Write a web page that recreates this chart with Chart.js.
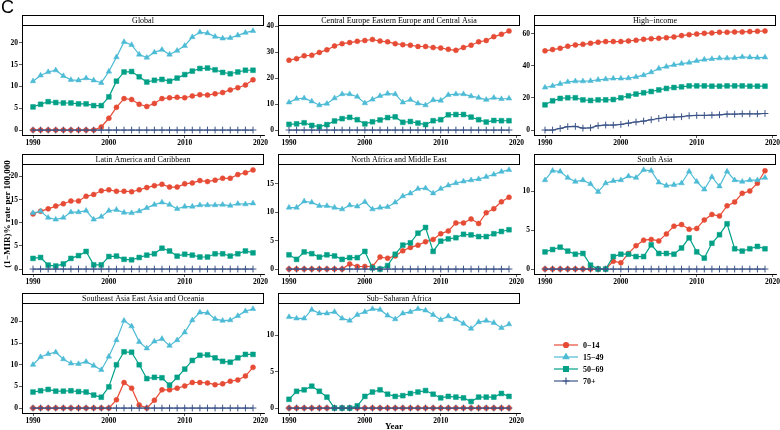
<!DOCTYPE html>
<html>
<head>
<meta charset="utf-8">
<script src="https://cdn.jsdelivr.net/npm/chart.js@4.4.1/dist/chart.umd.min.js"></script>
<style>
  body { margin: 0; background: #fff; }
  #wrap { position: relative; width: 780px; height: 430px; overflow: hidden; font-family: 'Liberation Serif', serif; }
  canvas { position: absolute; }
  .lab { position: absolute; white-space: nowrap; color: #000; }
</style>
</head>
<body>
<div id="wrap"></div>
<script>
// years on the x axis
var years = [1990,1991,1992,1993,1994,1995,1996,1997,1998,1999,2000,2001,2002,2003,2004,
             2005,2006,2007,2008,2009,2010,2011,2012,2013,2014,2015,2016,2017,2018,2019];
var xTicks = [1990, 2000, 2010, 2020];

var ageGroups = ['0\u221214', '15\u221249', '50\u221269', '70+'];
var zeros = [0,0,0,0,0,0,0,0,0,0,0,0,0,0,0,0,0,0,0,0,0,0,0,0,0,0,0,0,0,0];

// Global
var glob014 = [0,0,0,0,0,0,0,0,0,0.7,2.7,5.2,7.2,7.0,5.9,5.4,6.1,7.2,7.4,7.5,7.4,7.8,8.1,8.0,8.3,8.6,9.2,9.7,10.3,11.5];
var glob1549 = [11.2,12.5,13.3,13.7,12.4,11.5,11.4,11.9,11.4,10.8,13.4,16.7,20.2,19.5,17.3,16.6,17.8,18.4,17.3,18.2,19.3,21.3,22.4,22.2,21.4,21.0,21.1,21.7,22.3,22.7];
var glob5069 = [5.3,5.9,6.5,6.3,6.2,6.2,6.0,6.0,5.6,5.6,7.6,11.2,13.3,13.4,12.2,11.0,11.4,11.6,11.2,11.9,12.7,13.5,14.1,14.2,13.8,13.2,12.9,13.3,13.7,13.7];
var globTicks = [0, 5, 10, 15, 20];

// Central Europe Eastern Europe and Central Asia
var ceur014 = [27.0,27.6,28.7,28.9,30.0,31.0,32.5,33.4,33.8,34.3,34.6,35.0,34.4,34.1,33.4,33.0,32.8,32.3,32.3,31.9,31.7,31.2,30.8,31.9,32.8,34.1,34.6,36.1,37.0,38.3];
var ceur1549 = [10.7,12.1,12.3,11.1,9.6,10.2,12.3,13.9,13.9,12.9,10.4,11.8,13.2,14.1,13.9,10.7,11.7,10.3,9.6,11.6,11.4,13.6,13.9,13.9,13.1,12.5,11.7,12.5,12.0,12.2];
var ceur5069 = [2.2,2.4,2.8,1.8,1.3,2.1,3.5,4.4,4.9,4.0,2.4,3.2,3.9,4.8,5.1,3.0,3.3,2.7,2.1,3.6,4.0,5.9,6.0,6.0,5.0,4.0,3.1,3.7,3.6,3.6];
var ceurTicks = [0, 10, 20, 30, 40];

// High-income
var high014 = [49.3,50.1,50.9,52.2,53.0,53.4,54.0,54.7,55.1,55.1,55.1,55.5,55.9,56.5,56.9,57.1,57.5,58.0,58.8,59.4,59.8,60.2,60.5,60.9,60.9,61.1,61.1,61.3,61.5,61.7];
var high1549 = [26.5,27.5,28.8,30.0,30.4,30.4,30.6,31.3,31.7,32.1,32.1,32.3,33.1,34.2,36.0,38.3,39.5,40.6,41.4,42.0,43.1,43.9,44.3,44.7,44.7,44.9,45.5,45.3,45.1,45.3];
var high5069 = [15.7,18.2,19.7,20.1,20.1,18.8,18.4,18.8,18.8,19.0,20.1,21.3,22.4,23.2,24.0,25.0,25.9,26.5,26.9,27.5,27.5,27.5,27.3,27.3,27.5,27.5,27.5,27.3,27.3,27.3];
var high70 = [0,0,1.0,2.1,2.3,1.2,1.4,2.7,3.1,3.1,3.5,4.3,5.0,5.6,6.4,7.2,7.9,8.1,8.3,8.9,9.1,9.1,9.3,9.5,9.9,9.9,10.1,10.1,10.1,10.3];
var highTicks = [0, 20, 40, 60];

// Latin America and Caribbean
var lat014 = [11.9,12.5,13.0,13.6,14.1,14.7,14.7,15.7,16.1,16.9,17.1,16.8,16.8,16.7,17.1,17.6,18.0,18.3,17.7,17.7,18.4,18.6,19.1,18.9,19.2,19.6,19.6,20.4,20.8,21.4];
var lat1549 = [12.1,12.5,11.1,10.7,11.1,12.3,12.3,12.6,10.7,11.3,12.6,12.8,12.2,12.1,12.5,13.2,13.9,14.4,13.9,13.0,13.5,13.5,13.8,13.8,13.8,13.9,13.7,14.1,14.0,14.2];
var lat5069 = [2.3,2.5,0.85,0.65,1.1,2.3,2.9,3.8,0.9,0.9,2.7,2.8,2.1,2.0,2.5,3.0,3.3,4.5,3.9,2.8,3.2,3.0,2.6,2.6,3.3,3.3,2.8,3.3,3.9,3.5];
var latTicks = [0, 5, 10, 15, 20];

// North Africa and Middle East
var nafr014 = [0,0,0,0,0,0,0,0,0.9,0.45,0.45,0.45,2.1,1.9,2.3,3.2,3.8,4.2,4.8,5.2,6.2,6.7,8.1,8.1,8.8,8.0,9.9,10.6,11.8,12.6];
var nafr1549 = [10.8,10.8,11.9,11.7,11.1,11.1,10.8,10.5,11.2,11.0,11.8,10.5,10.8,10.9,11.7,12.8,13.3,14.1,14.2,13.3,14.1,14.7,15.1,15.4,15.6,15.8,16.2,16.6,17.1,17.4];
var nafr5069 = [2.5,1.7,3.0,2.7,2.1,2.5,2.3,1.7,2.0,2.0,3.1,0.2,0,0.6,2.6,4.2,4.6,6.3,7.3,3.1,4.9,5.3,5.5,6.1,6.0,5.7,5.7,6.2,6.6,6.9];
var nafrTicks = [0, 5, 10, 15];

// South Asia
var sas014 = [0,0,0,0,0,0,0,0,0,1.0,0.8,2.0,3.0,3.7,3.8,3.6,4.5,5.5,5.7,5.1,5.2,6.3,7.0,6.8,8.1,8.6,9.7,10.0,11.0,12.6];
var sas1549 = [11.4,12.6,12.5,11.7,11.2,11.4,10.9,9.9,11.0,11.3,11.4,11.9,11.7,12.7,12.6,11.1,10.7,10.8,11.0,12.5,11.2,10.2,11.8,10.6,12.5,11.4,11.2,11.4,11.4,11.7];
var sas5069 = [2.2,2.5,2.8,2.3,1.9,2.0,0.5,0,0,1.6,1.9,1.9,1.6,1.6,3.1,2.0,2.0,1.9,2.7,4.0,2.2,1.4,3.3,4.4,5.8,2.6,2.3,2.6,2.9,2.6];
var sasTicks = [0, 5, 10];

// Southeast Asia East Asia and Oceania
var sea014 = [0,0,0,0,0,0,0,0,0,0,0,1.9,5.9,4.6,0.7,0,1.8,4.2,4.2,4.6,5.1,5.9,5.9,5.8,5.4,5.6,6.2,6.5,7.4,9.4];
var sea1549 = [10.0,11.8,12.5,12.9,11.3,10.3,10.2,10.7,9.8,8.8,11.9,15.7,20.2,18.9,15.3,13.8,15.4,16.0,14.4,15.7,17.5,20.3,22.1,22.0,20.6,20.2,20.3,21.3,22.4,22.9];
var sea5069 = [3.7,4.0,4.3,3.9,3.9,4.0,3.8,3.7,3.0,2.5,4.9,10.0,13.0,12.9,10.0,6.8,7.1,7.0,5.3,7.1,9.0,11.0,12.2,12.3,11.6,10.8,10.6,11.6,12.4,12.4];
var seaTicks = [0, 5, 10, 15, 20];

// Sub-Saharan Africa
var ssa1549 = [12.5,12.3,12.3,13.5,13.0,13.0,13.2,12.3,12.0,12.8,13.2,13.6,13.5,12.7,12.2,13.0,13.2,13.6,13.4,12.8,12.1,12.6,12.2,11.6,10.9,11.8,12.0,11.7,11.0,11.5];
var ssa5069 = [1.2,2.3,2.5,3.0,2.3,1.5,0,0,0,0.3,1.6,2.2,2.5,1.9,1.6,1.7,2.0,2.2,2.4,1.9,1.4,1.6,1.5,1.4,0.9,1.5,1.5,1.5,2.0,1.6];
var ssaTicks = [0, 5, 10];

var panels = [
  { title: 'Global', row: 0, col: 0, series: [glob014, glob1549, glob5069, zeros], ticks: globTicks },
  { title: 'Central Europe Eastern Europe and Central Asia', row: 0, col: 1, series: [ceur014, ceur1549, ceur5069, zeros], ticks: ceurTicks },
  { title: 'High\u2212income', row: 0, col: 2, series: [high014, high1549, high5069, high70], ticks: highTicks },
  { title: 'Latin America and Caribbean', row: 1, col: 0, series: [lat014, lat1549, lat5069, zeros], ticks: latTicks },
  { title: 'North Africa and Middle East', row: 1, col: 1, series: [nafr014, nafr1549, nafr5069, zeros], ticks: nafrTicks },
  { title: 'South Asia', row: 1, col: 2, series: [sas014, sas1549, sas5069, zeros], ticks: sasTicks },
  { title: 'Southeast Asia East Asia and Oceania', row: 2, col: 0, series: [sea014, sea1549, sea5069, zeros], ticks: seaTicks },
  { title: 'Sub\u2212Saharan Africa', row: 2, col: 1, series: [zeros, ssa1549, ssa5069, zeros], ticks: ssaTicks }
];

// styles
var colors = ['#E64B35', '#4DBBD5', '#00A087', '#3C5488'];
var shapes = ['circle', 'triangle', 'rect', 'cross'];
var radii = [2.5, 3.2, 3.4, 3.4];

var colLeft = [22, 278, 534];
var stripTop = [15, 154, 293];
var plotW = 242, stripH = 11, plotH = 109;
var yAxisW = 22, xAxisH = 14, padTop = stripH + 1, padRight = 12;

Chart.defaults.font.family = "'Liberation Serif', serif";
Chart.defaults.color = '#000';

// grey-headed strip above each panel
var stripPlugin = {
  id: 'strip',
  afterDraw: function(chart, args, opts) {
    var a = chart.chartArea, c = chart.ctx;
    var y0 = a.top - stripH;
    c.save();
    c.fillStyle = '#fff';
    c.fillRect(a.left, y0, a.right - a.left, stripH);
    c.strokeStyle = '#000';
    c.lineWidth = 1;
    c.strokeRect(a.left + 0.5, y0 + 0.5, a.right - a.left - 1, stripH - 1);
    c.fillStyle = '#000';
    c.font = '8px "Liberation Serif", serif';
    c.textAlign = 'center';
    c.textBaseline = 'middle';
    c.fillText(opts.title, (a.left + a.right) / 2, y0 + stripH / 2 + 0.5);
    c.restore();
  }
};

var wrap = document.getElementById('wrap');

function addLabel(text, css) {
  var d = document.createElement('div');
  d.className = 'lab';
  d.textContent = text;
  d.style.cssText += css;
  wrap.appendChild(d);
  return d;
}

panels.forEach(function(p) {
  var left = colLeft[p.col];
  var top = stripTop[p.row] + stripH;

  // y range like ggplot (5% expansion)
  var all = [].concat.apply([], p.series);
  var lo = Math.min.apply(null, all), hi = Math.max.apply(null, all);
  var r = hi - lo;

  var cv = document.createElement('canvas');
  cv.width = yAxisW + plotW + padRight;
  cv.height = padTop + plotH + xAxisH;
  cv.style.left = (left - yAxisW) + 'px';
  cv.style.top = (top - padTop) + 'px';
  wrap.appendChild(cv);

  var datasets = p.series.map(function(vals, i) {
    return {
      label: ageGroups[i],
      data: vals.map(function(v, j) { return { x: years[j], y: v }; }),
      borderColor: colors[i],
      backgroundColor: colors[i],
      borderWidth: 1.2,
      pointStyle: shapes[i],
      pointRadius: radii[i],
      pointBorderWidth: i === 3 ? 1 : 0.5,
      pointBackgroundColor: colors[i],
      pointBorderColor: colors[i],
      order: 3 - i,
      tension: 0
    };
  });

  new Chart(cv, {
    type: 'line',
    data: { datasets: datasets },
    plugins: [stripPlugin],
    options: {
      responsive: false,
      animation: false,
      events: [],
      layout: { padding: { top: padTop, right: padRight, left: 0, bottom: 0 } },
      plugins: { legend: { display: false }, tooltip: { enabled: false }, strip: { title: p.title } },
      scales: {
        x: {
          type: 'linear',
          min: 1990 - 29 * 0.05,
          max: 2019 + 29 * 0.05,
          afterBuildTicks: function(s) { s.ticks = xTicks.map(function(v) { return { value: v }; }); },
          afterFit: function(s) { s.height = xAxisH; },
          ticks: { font: { size: 7.5, weight: 'bold' }, padding: 1, maxRotation: 0, autoSkip: false,
                   callback: function(v) { return String(v); } },
          grid: { drawOnChartArea: false, drawTicks: true, tickLength: 3, color: '#333', lineWidth: 0.8 },
          border: { display: true, color: '#000', width: 1 }
        },
        y: {
          min: lo - r * 0.05,
          max: hi + r * 0.05,
          afterBuildTicks: function(s) { s.ticks = p.ticks.map(function(v) { return { value: v }; }); },
          afterFit: function(s) { s.width = yAxisW; },
          ticks: { font: { size: 7.5, weight: 'bold' }, padding: 1, autoSkip: false,
                   callback: function(v) { return String(v); } },
          grid: { drawOnChartArea: false, drawTicks: true, tickLength: 3, color: '#333', lineWidth: 0.8 },
          border: { display: true, color: '#000', width: 1 }
        }
      }
    }
  });
});

// panel letter and axis titles
addLabel('C', 'left:1px;top:-3px;font:18px "Liberation Sans", Arial, sans-serif;');
addLabel('Year', 'left:394px;top:426px;transform:translate(-50%,-50%);font:bold 9px "Liberation Serif", serif;');
addLabel('(1\u2212MIR)% rate per 100,000', 'left:7px;top:214px;transform:translate(-50%,-50%) rotate(-90deg);font:bold 9px "Liberation Serif", serif;');

// legend
var lg = document.createElement('canvas');
lg.width = 32; lg.height = 52;
lg.style.left = '550px'; lg.style.top = '338px';
wrap.appendChild(lg);
var lctx = lg.getContext('2d');
ageGroups.forEach(function(name, i) {
  var cy = 7 + i * 12;
  lctx.strokeStyle = colors[i];
  lctx.lineWidth = 1.2;
  lctx.beginPath(); lctx.moveTo(4, cy); lctx.lineTo(28, cy); lctx.stroke();
  lctx.fillStyle = colors[i];
  Chart.helpers.drawPoint(lctx, { pointStyle: shapes[i], radius: radii[i], borderWidth: i === 3 ? 1 : 0.5, rotation: 0 }, 16, cy);
  addLabel(name, 'left:583px;top:' + (338 + cy) + 'px;transform:translateY(-50%);font:bold 8px "Liberation Serif", serif;');
});
</script>
</body>
</html>
